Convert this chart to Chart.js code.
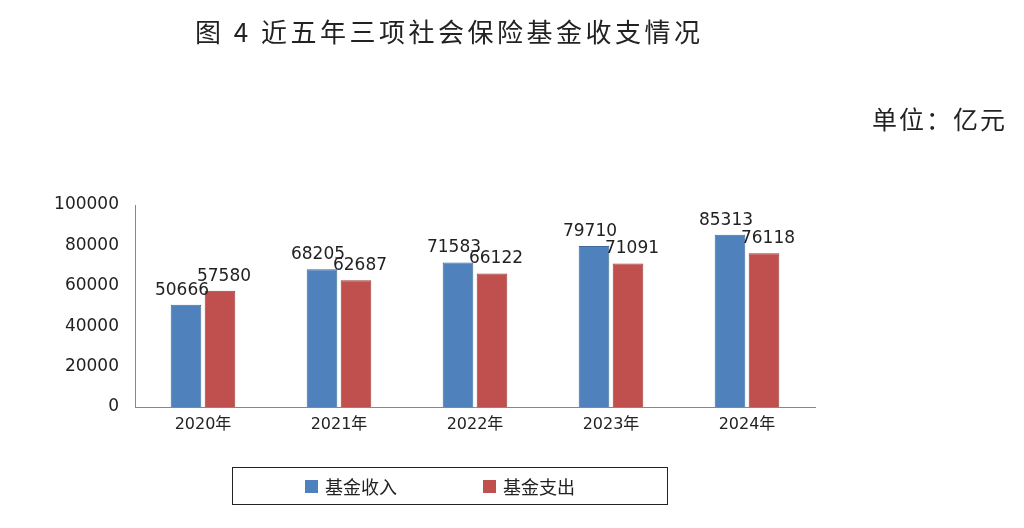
<!DOCTYPE html>
<html><head><meta charset="utf-8">
<script src="https://cdn.jsdelivr.net/npm/chart.js@4/dist/chart.umd.min.js"></script>
<style>
body{margin:0;width:1024px;height:528px;background:#fff;position:relative;overflow:hidden;font-family:"Noto Sans CJK SC","Noto Sans",sans-serif;}
#c{position:absolute;left:0;top:0;}
.t{position:absolute;color:#222;white-space:nowrap;}
#legend{position:absolute;left:232px;top:467px;width:436px;height:38px;border:1.5px solid #222;box-sizing:border-box;font-size:18px;color:#222;}
.sw{position:absolute;top:12px;width:13px;height:13px;}
</style></head><body>
<canvas id="c" width="1024" height="528"></canvas>
<div class="t" style="left:195px;top:12px;font-size:26px;letter-spacing:3.5px;">图 4 近五年三项社会保险基金收支情况</div>
<div class="t" style="left:872px;top:100px;font-size:25px;letter-spacing:2px;">单位：亿元</div>
<div id="legend">
<div class="sw" style="left:72px;background:#4F81BD"></div><div class="t" style="left:92px;top:5px;">基金收入</div>
<div class="sw" style="left:250px;background:#C0504D"></div><div class="t" style="left:270px;top:5px;">基金支出</div>
</div>
<script>
const categories=["2020年","2021年","2022年","2023年","2024年"];
const income=[50666,68205,71583,79710,85313];
const expense=[57580,62687,66122,71091,76118];
const yTicks=[0,20000,40000,60000,80000,100000];
const labelPlugin={id:'lbl',afterDatasetsDraw(ch){const c=ch.ctx;c.save();c.font='17px "DejaVu Sans",sans-serif';c.fillStyle='#222';c.textAlign='center';c.textBaseline='bottom';
ch.data.datasets.forEach((ds,i)=>{ch.getDatasetMeta(i).data.forEach((b,j)=>{c.fillText(ds.data[j],b.x+(i===0?-4:4),b.y-6);});});c.restore();}};
new Chart(document.getElementById('c'),{type:'bar',
data:{labels:categories,datasets:[
{label:'基金收入',data:income,backgroundColor:'#4F81BD',borderColor:'#3c6a9e',borderWidth:1,categoryPercentage:0.5,barPercentage:0.9},
{label:'基金支出',data:expense,backgroundColor:'#C0504D',borderColor:'#9c3b38',borderWidth:1,categoryPercentage:0.5,barPercentage:0.9}]},
options:{responsive:false,animation:false,
layout:{padding:{left:0,right:209,top:205,bottom:81}},
plugins:{legend:{display:false},tooltip:{enabled:false}},
scales:{
x:{grid:{display:false,drawTicks:false},border:{color:'#888'},ticks:{color:'#222',font:{size:16,family:'"DejaVu Sans","Noto Sans CJK SC"'},padding:8},afterFit(s){s.height=40;}},
y:{min:0,max:100000,grid:{display:false},border:{color:'#888'},
afterBuildTicks(s){s.ticks=yTicks.map(v=>({value:v}));},
ticks:{color:'#222',font:{size:17,family:'"DejaVu Sans"'},padding:8,callback:v=>String(v)},afterFit(s){s.width=135;}}}},
plugins:[labelPlugin]});
</script></body></html>
